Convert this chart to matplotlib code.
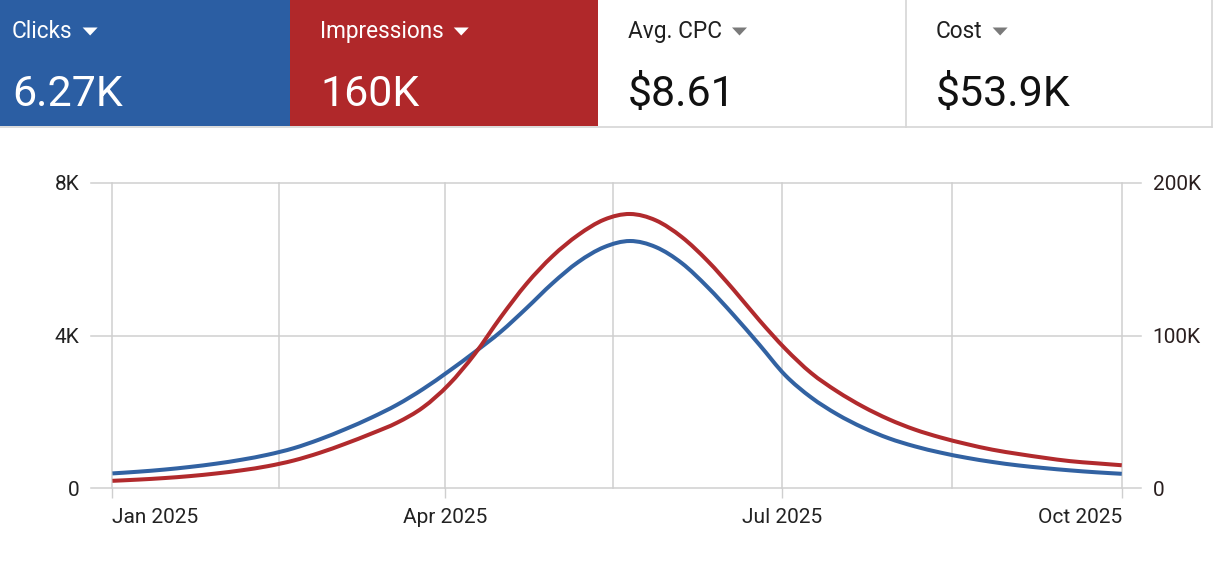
import matplotlib
matplotlib.use("Agg")
import matplotlib.pyplot as plt
import matplotlib.dates as mdates
from matplotlib.patches import Rectangle, Polygon, PathPatch
from matplotlib.path import Path
import numpy as np
import pandas as pd

plt.rcParams['font.family'] = ['Roboto', 'DejaVu Sans']

# Data (weekly)
WEEKS = pd.date_range("2025-01-01", "2025-10-01", freq="7D")
CLICKS = [390, 435, 490, 560, 645, 750, 880, 1050, 1280, 1550,
          1850, 2190, 2600, 3070, 3570, 4100, 4720, 5370, 5930, 6320,
          6480, 6320, 5900, 5270, 4540, 3760, 2960, 2380, 1940, 1590,
          1310, 1100, 935, 800, 690, 600, 530, 470, 420, 380]
IMPRESSIONS = [4900, 5700, 6700, 8000, 9700, 11800, 14500, 18200, 23200, 29200,
               35800, 43000, 53000, 68000, 88000, 112000, 134000, 152000, 166000, 176000,
               179700, 175500, 164600, 148900, 130100, 110000, 91400, 75500, 63500, 53500,
               45200, 38500, 33300, 29000, 25300, 22500, 20000, 17800, 16400, 15100]

TILE_NAMES = ["Clicks", "Impressions", "Avg. CPC", "Cost"]
TILE_VALUES = ["6.27K", "160K", "$8.61", "$53.9K"]

X_TICKS = pd.to_datetime(["2025-01-01", "2025-04-01", "2025-07-01", "2025-10-01"])
X_TICK_LABELS = ["Jan 2025", "Apr 2025", "Jul 2025", "Oct 2025"]
X_MID_GRID = pd.to_datetime(["2025-02-15 00:00", "2025-05-16 12:00", "2025-08-16 00:00"])
Y_LEFT_TICKS = [0, 4000, 8000]
Y_LEFT_LABELS = ["0", "4K", "8K"]
Y_RIGHT_TICKS = [0, 100000, 200000]
Y_RIGHT_LABELS = ["0", "100K", "200K"]

# Styles
W, H = 1216, 573
BLUE_TILE = "#2b5ea3"
RED_TILE = "#b0282a"
BLUE_LINE = "#3262a2"
RED_LINE = "#b12a2d"
GRID = "#cfcfcf"
BORDER = "#d6d6d6"


def smooth_path(xs, ys):
    # cubic curve through the points (like a "function" curve type)
    pts = np.column_stack([np.asarray(xs, float), np.asarray(ys, float)])
    n = len(pts)
    verts = [pts[0]]
    codes = [Path.MOVETO]
    for i in range(n - 1):
        p0 = pts[i - 1] if i > 0 else pts[i]
        p1 = pts[i]
        p2 = pts[i + 1]
        p3 = pts[i + 2] if i + 2 < n else pts[i + 1]
        verts += [p1 + (p2 - p0) / 6, p2 - (p3 - p1) / 6, p2]
        codes += [Path.CURVE4] * 3
    return Path(verts, codes)


fig = plt.figure(figsize=(W / 100, H / 100), dpi=100)
fig.patch.set_facecolor("white")

# ---- main chart ----
ax = fig.add_axes([91 / W, 1 - 488.3 / H, 1050 / W, 305.3 / H])
ax2 = ax.twinx()

for a in (ax, ax2):
    for s in a.spines.values():
        s.set_visible(False)
    a.patch.set_visible(False)

xnum = mdates.date2num(WEEKS)
tick_num = mdates.date2num(X_TICKS)
mid_num = mdates.date2num(X_MID_GRID)

for y in Y_LEFT_TICKS:
    ax.axhline(y, color=GRID, lw=1.1, zorder=0, clip_on=False)
for d in list(tick_num) + list(mid_num):
    ax.axvline(d, color=GRID, lw=1.1, zorder=0, clip_on=False)

ax.add_patch(PathPatch(smooth_path(xnum, CLICKS), facecolor="none", edgecolor=BLUE_LINE,
                       lw=2.9, capstyle="butt", joinstyle="round", zorder=3))
ax2.add_patch(PathPatch(smooth_path(xnum, IMPRESSIONS), facecolor="none", edgecolor=RED_LINE,
                        lw=2.9, capstyle="butt", joinstyle="round", zorder=3))

ax.set_xlim(tick_num[0] - 5.8, tick_num[-1] + 5.2)
ax.set_ylim(0, 8000)
ax2.set_ylim(0, 200000)

ax.set_yticks(Y_LEFT_TICKS)
ax.set_yticklabels(Y_LEFT_LABELS)
ax2.set_yticks(Y_RIGHT_TICKS)
ax2.set_yticklabels(Y_RIGHT_LABELS)
ax.tick_params(axis="y", length=0, pad=8.5, labelsize=15, labelcolor="#222222")
ax2.tick_params(axis="y", length=0, pad=8.5, labelsize=15, labelcolor="#2a1f1f")

ax.set_xticks(tick_num)
ax.set_xticklabels(X_TICK_LABELS)
ax.tick_params(axis="x", length=7.5, width=1.0, color=GRID, pad=6.5,
               labelsize=15, labelcolor="#222222")
ax.minorticks_off()
labels = ax.get_xticklabels()
labels[0].set_ha("left")
labels[-1].set_ha("right")

# ---- header tiles ----
hax = fig.add_axes([0, 1 - 130 / H, 1, 130 / H])
hax.set_xlim(0, W)
hax.set_ylim(130, 0)
hax.axis("off")

tile_x = [0, 290, 598, 906]
tile_w = [290, 308, 308, 306]
tile_bg = [BLUE_TILE, RED_TILE, "white", "white"]
text_off = [12, 30, 30, 30]

for x, w, bg in zip(tile_x, tile_w, tile_bg):
    hax.add_patch(Rectangle((x, 0), w, 126, facecolor=bg, edgecolor="none"))

hax.plot([0, 1212], [126.5, 126.5], color=BORDER, lw=1.2)
hax.plot([906, 906], [0, 126.5], color=BORDER, lw=1.2)
hax.plot([1212, 1212], [0, 126.5], color=BORDER, lw=1.2)

titles = []
for i, (name, val) in enumerate(zip(TILE_NAMES, TILE_VALUES)):
    dark = tile_bg[i] == "white"
    fg = "#1f1f1f" if dark else "white"
    t = hax.text(tile_x[i] + text_off[i], 38, name, fontsize=16.3, color=fg,
                 ha="left", va="baseline")
    hax.text(tile_x[i] + text_off[i], 106, val, fontsize=31, color="#111111" if dark else "white",
             ha="left", va="baseline")
    titles.append(t)

fig.canvas.draw()
renderer = fig.canvas.get_renderer()
for i, t in enumerate(titles):
    bb = t.get_window_extent(renderer)
    x0 = bb.x1 + 10
    tri_color = "#7a7a7a" if tile_bg[i] == "white" else "white"
    hax.add_patch(Polygon([(x0, 27.5), (x0 + 15, 27.5), (x0 + 7.5, 35.5)],
                          closed=True, facecolor=tri_color, edgecolor="none"))

fig.savefig("out.png", dpi=100)
